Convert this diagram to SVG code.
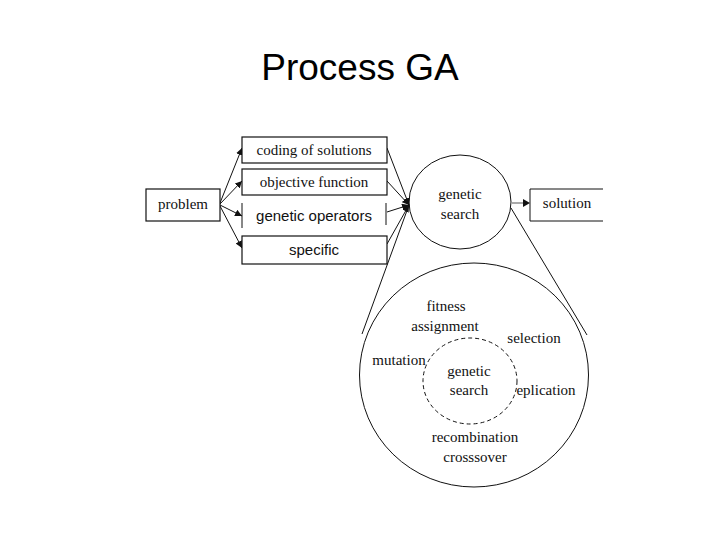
<svg xmlns="http://www.w3.org/2000/svg" width="720" height="540" viewBox="0 0 720 540">
<defs>
<marker id="ah" viewBox="0 0 10 10" refX="10" refY="5" markerWidth="7" markerHeight="7" markerUnits="userSpaceOnUse" orient="auto">
<path d="M0,0 L10,5 L0,10 z" fill="#111"/>
</marker>
<style>
.box{fill:#fff;stroke:#111;stroke-width:1.2}
.ln{fill:none;stroke:#111;stroke-width:1}
.serif{font-family:"Liberation Serif","Times New Roman",serif;font-size:15px;fill:#111;text-anchor:middle}
.sans{font-family:"Liberation Sans",Arial,sans-serif;font-size:15px;fill:#111;text-anchor:middle}
</style>
</defs>
<rect width="720" height="540" fill="#fff"/>
<text x="360" y="80" font-family="'Liberation Sans',Arial,sans-serif" font-size="37" text-anchor="middle" fill="#000">Process GA</text>

<g id="connectors">
<line class="ln" x1="220" y1="203" x2="242" y2="148" marker-end="url(#ah)"/>
<line class="ln" x1="220" y1="204" x2="242" y2="181" marker-end="url(#ah)"/>
<line class="ln" x1="220" y1="205" x2="242" y2="216" marker-end="url(#ah)"/>
<line class="ln" x1="220" y1="206" x2="242" y2="248" marker-end="url(#ah)"/>
<line class="ln" x1="387" y1="148" x2="409" y2="205" marker-end="url(#ah)"/>
<line class="ln" x1="387" y1="181" x2="409" y2="205" marker-end="url(#ah)"/>
<line class="ln" x1="387" y1="212" x2="409" y2="205" marker-end="url(#ah)"/>
<line class="ln" x1="387" y1="244" x2="409" y2="205" marker-end="url(#ah)"/>
<line class="ln" x1="409" y1="205" x2="362" y2="334"/>
<line class="ln" x1="511" y1="208" x2="587" y2="335"/>
<line x1="512" y1="203" x2="524" y2="203" stroke="#aaa" stroke-width="2"/>
<path d="M523,199 L530,203 L523,207 z" fill="#111"/>
</g>

<g id="problem">
<rect class="box" x="146" y="189" width="74" height="32"/>
<text class="serif" x="183" y="209">problem</text>
</g>

<g id="coding">
<rect class="box" x="242" y="137" width="145" height="26"/>
<text class="serif" x="314" y="155">coding of solutions</text>
</g>

<g id="objective">
<rect class="box" x="242" y="169" width="145" height="26"/>
<text class="serif" x="314" y="187">objective function</text>
</g>

<g id="operators">
<line class="ln" x1="242" y1="203" x2="242" y2="228" stroke-width="1.2"/>
<line class="ln" x1="386" y1="203" x2="386" y2="225" stroke-width="1.2"/>
<text class="sans" x="314" y="221">genetic operators</text>
</g>

<g id="specific">
<rect class="box" x="242" y="236" width="145" height="28"/>
<text class="sans" x="314" y="255">specific</text>
</g>

<g id="genetic-search">
<ellipse class="ln" cx="460" cy="202" rx="51" ry="47"/>
<text class="serif" x="460" y="199">genetic</text>
<text class="serif" x="460" y="219">search</text>
</g>

<g id="solution">
<path class="ln" d="M603,189 H530 V221 H603" stroke-width="1.2"/>
<text class="serif" x="567" y="208">solution</text>
</g>

<g id="detail">
<ellipse class="ln" cx="474" cy="375" rx="114.5" ry="112"/>
<ellipse cx="470" cy="381" rx="47" ry="43" fill="none" stroke="#111" stroke-width="1" stroke-dasharray="4,3"/>
<text class="serif" x="446" y="311">fitness</text>
<text class="serif" x="445" y="331">assignment</text>
<text class="serif" x="534" y="343">selection</text>
<text class="serif" x="399" y="365">mutation</text>
<text class="serif" x="469" y="376">genetic</text>
<text class="serif" x="469" y="395">search</text>
<text class="serif" x="546" y="395">eplication</text>
<text class="serif" x="475" y="442">recombination</text>
<text class="serif" x="475" y="462">crosssover</text>
</g>
</svg>
